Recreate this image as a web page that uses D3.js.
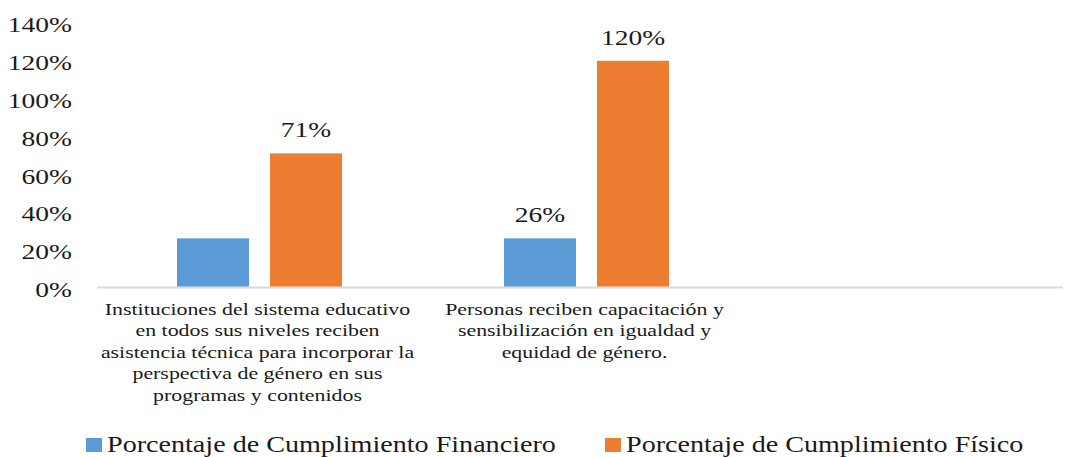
<!DOCTYPE html>
<html>
<head>
<meta charset="utf-8">
<script src="https://cdn.jsdelivr.net/npm/d3@7"></script>
<style>
  html, body { margin: 0; padding: 0; background: #fff; }
  svg { display: block; font-family: "Liberation Serif", "Times New Roman", serif; }
  text { font-family: "Liberation Serif", "Times New Roman", serif; fill: #1a1a1a; }
</style>
</head>
<body>
<svg id="chart" width="1065" height="457"></svg>
<script>
// ---- data ----
const categories = ["cat1", "cat2", "cat3"];
const categoryLines = [
  ["Instituciones del sistema educativo", "en todos sus niveles reciben", "asistencia técnica para incorporar la", "perspectiva de género en sus", "programas y contenidos"],
  ["Personas reciben capacitación y", "sensibilización en igualdad y", "equidad de género."],
  []
];
const seriesNames = ["Porcentaje de Cumplimiento Financiero", "Porcentaje de Cumplimiento Físico"];
const financiero = [0.26, 0.26, null];
const fisico = [0.71, 1.20, null];
const financieroShowLabel = [false, true, false];
const fisicoShowLabel = [true, true, false];
const yTicks = [0, 0.2, 0.4, 0.6, 0.8, 1.0, 1.2, 1.4];
const colors = ["#5B9BD5", "#ED7D31"];

// ---- layout ----
const SX = 1.25; // horizontal text stretch seen in reference
const svg = d3.select("#chart");

const x0 = d3.scaleBand().domain(categories).range([96, 1077]).paddingInner(0).paddingOuter(0);
const x1 = d3.scaleBand().domain([0, 1]).range([0, x0.bandwidth()]).paddingInner(0.2258).paddingOuter(0.871);
const y = d3.scaleLinear().domain([0, 1.4]).range([287.5, 23]);

// axis line (baseline)
svg.append("line")
  .attr("x1", 97).attr("x2", 1063)
  .attr("y1", y(0)).attr("y2", y(0))
  .attr("stroke", "#d9d9d9").attr("stroke-width", 2);

// y axis
const yAxis = svg.append("g")
  .attr("transform", "translate(82,0)")
  .call(d3.axisLeft(y).tickValues(yTicks).tickFormat(d3.format(".0%")).tickSize(0).tickPadding(8));
yAxis.select(".domain").remove();
yAxis.attr("font-family", null);
yAxis.selectAll("text")
  .attr("font-family", "Liberation Serif, Times New Roman, serif")
  .attr("font-size", 22)
  .attr("fill", "#1a1a1a")
  .attr("dy", "0.36em")
  .attr("x", 0)
  .attr("transform", `translate(-10,1) scale(${SX},1)`);

// bars
const rows = categories.map((c, i) => ({ cat: c, vals: [financiero[i], fisico[i]], show: [financieroShowLabel[i], fisicoShowLabel[i]] }));
const groups = svg.append("g").selectAll("g").data(rows).join("g")
  .attr("transform", d => `translate(${x0(d.cat)},0)`);

groups.selectAll("rect")
  .data(d => d.vals.map((v, k) => ({ v, k })).filter(e => e.v != null))
  .join("rect")
  .attr("x", e => x1(e.k))
  .attr("width", x1.bandwidth())
  .attr("y", e => y(e.v))
  .attr("height", e => y(0) - 1 - y(e.v))
  .attr("fill", e => colors[e.k]);

// data labels
groups.selectAll("text.lbl")
  .data(d => d.vals.map((v, k) => ({ v, k, s: d.show[k] })).filter(e => e.v != null && e.s))
  .join("text")
  .attr("class", "lbl")
  .attr("font-size", 22)
  .attr("text-anchor", "middle")
  .attr("transform", e => `translate(${x1(e.k) + x1.bandwidth() / 2},${y(e.v) - 16}) scale(${SX},1)`)
  .text(e => d3.format(".0%")(e.v));

// category labels
categories.forEach((c, i) => {
  const cx = x0(c) + x0.bandwidth() / 2 - 2;
  categoryLines[i].forEach((line, j) => {
    svg.append("text")
      .attr("font-size", 17.5)
      .attr("text-anchor", "middle")
      .attr("transform", `translate(${cx},${315 + j * 21.4}) scale(${SX},1)`)
      .text(line);
  });
});

// legend
const legendX = [86, 605];
seriesNames.forEach((name, k) => {
  svg.append("rect")
    .attr("x", legendX[k]).attr("y", 438)
    .attr("width", 16).attr("height", 14)
    .attr("fill", colors[k]);
  svg.append("text")
    .attr("font-size", 22.5)
    .attr("transform", `translate(${legendX[k] + 21},452) scale(${SX},1)`)
    .text(name);
});
</script>
</body>
</html>
